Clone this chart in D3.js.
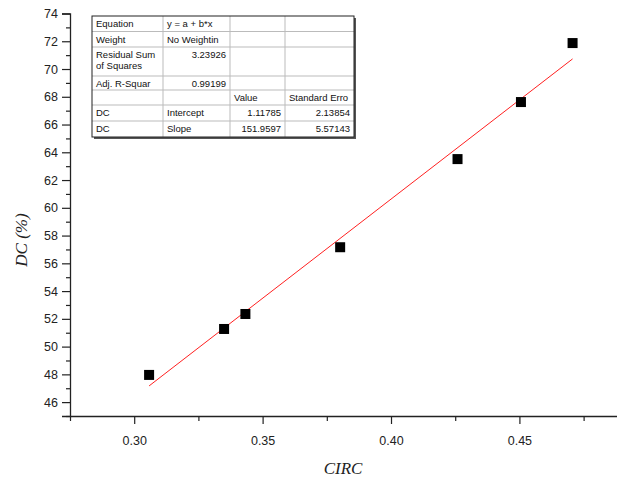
<!DOCTYPE html>
<html><head><meta charset="utf-8">
<script src="https://cdn.jsdelivr.net/npm/d3@7"></script>
<style>body{margin:0;background:#fff}svg{display:block}</style>
</head><body>
<svg id="c" width="617" height="479"></svg>
<script>
// Data
const circ = [0.3058, 0.3350, 0.3433, 0.3802, 0.4259, 0.4506, 0.4707];
const dc   = [47.96, 51.27, 52.35, 57.16, 63.51, 67.62, 71.87];
const xTicks = [0.30, 0.35, 0.40, 0.45];
const xMinor = [0.275, 0.325, 0.375, 0.425, 0.475];
const yTicks = [46, 48, 50, 52, 54, 56, 58, 60, 62, 64, 66, 68, 70, 72, 74];
const yMinor = [45, 47, 49, 51, 53, 55, 57, 59, 61, 63, 65, 67, 69, 71, 73];
const tableRows = [
  ["Equation", "y = a + b*x", "", ""],
  ["Weight", "No Weightin", "", ""],
  ["Residual Sum\nof Squares", "3.23926", "", ""],
  ["Adj. R-Squar", "0.99199", "", ""],
  ["", "", "Value", "Standard Erro"],
  ["DC", "Intercept", "1.11785", "2.13854"],
  ["DC", "Slope", "151.9597", "5.57143"]
];

const svg = d3.select("#c");
const x = d3.scaleLinear().domain([0.275, 0.488]).range([70, 617]);
const y = d3.scaleLinear().domain([45, 74]).range([416, 13.5]);

// least squares fit of the plotted points
const n = circ.length;
const mx = d3.mean(circ), my = d3.mean(dc);
let sxy = 0, sxx = 0;
for (let i = 0; i < n; i++) { sxy += (circ[i]-mx)*(dc[i]-my); sxx += (circ[i]-mx)**2; }
const b = sxy / sxx, a = my - b * mx;
const x0 = d3.min(circ), x1 = d3.max(circ);

// axes
const gx = svg.append("g").attr("transform", "translate(0,416)");
gx.call(d3.axisBottom(x).tickValues(xTicks).tickFormat(d3.format(".2f")).tickSize(8).tickPadding(12));
gx.append("g").call(d3.axisBottom(x).tickValues(xMinor).tickFormat("").tickSize(5)).select(".domain").remove();
const gy = svg.append("g").attr("transform", "translate(70,0)");
gy.call(d3.axisLeft(y).tickValues(yTicks).tickFormat(d3.format("d")).tickSize(8).tickPadding(4));
gy.append("g").call(d3.axisLeft(y).tickValues(yMinor).tickFormat("").tickSize(4)).select(".domain").remove();
svg.selectAll(".domain").attr("stroke", "#222").attr("stroke-width", 1.3);
svg.selectAll(".tick line").attr("stroke", "#222").attr("stroke-width", 1.2);
svg.selectAll(".tick text").attr("font-family", "Liberation Sans, Arial, sans-serif").attr("font-size", 12.5).attr("fill", "#222");
gx.select(".domain").attr("d", "M70,0.5H617");

// axis titles
svg.append("text").attr("x", 343).attr("y", 474).attr("text-anchor", "middle")
  .attr("font-family", "Liberation Serif, Times New Roman, serif").attr("font-style", "italic")
  .attr("font-size", 17).attr("fill", "#222").text("CIRC");
svg.append("text").attr("transform", "translate(27,240) rotate(-90)").attr("text-anchor", "middle")
  .attr("font-family", "Liberation Serif, Times New Roman, serif").attr("font-style", "italic")
  .attr("font-size", 17).attr("fill", "#222").text("DC (%)");

// fit line
svg.append("line").attr("x1", x(x0)).attr("y1", y(a + b*x0)).attr("x2", x(x1)).attr("y2", y(a + b*x1))
  .attr("stroke", "#ff2020").attr("stroke-width", 1);

// points
svg.append("g").selectAll("rect").data(circ).join("rect")
  .attr("x", (d) => x(d) - 5).attr("y", (d, i) => y(dc[i]) - 5)
  .attr("width", 10).attr("height", 10).attr("fill", "#000");

// table
const colX = [92, 163, 230, 285, 354];
const rowY = [16, 31.5, 47, 76, 90, 105, 121, 137];
const tb = svg.append("g");
tb.append("rect").attr("x", colX[0] + 2).attr("y", rowY[0] + 2).attr("width", colX[4] - colX[0])
  .attr("height", rowY[7] - rowY[0]).attr("fill", "#555");
tb.append("rect").attr("x", colX[0]).attr("y", rowY[0]).attr("width", colX[4] - colX[0])
  .attr("height", rowY[7] - rowY[0]).attr("fill", "#fff");
for (let i = 1; i < 7; i++) tb.append("line").attr("x1", colX[0]).attr("x2", colX[4])
  .attr("y1", rowY[i]).attr("y2", rowY[i]).attr("stroke", "#bbb").attr("stroke-width", 1);
for (let j = 1; j < 4; j++) tb.append("line").attr("x1", colX[j]).attr("x2", colX[j])
  .attr("y1", rowY[0]).attr("y2", rowY[7]).attr("stroke", "#bbb").attr("stroke-width", 1);
tb.append("rect").attr("x", colX[0]).attr("y", rowY[0]).attr("width", colX[4] - colX[0])
  .attr("height", rowY[7] - rowY[0]).attr("fill", "none").attr("stroke", "#222").attr("stroke-width", 1);
const isNum = (s) => /^[0-9.]+$/.test(s);
tableRows.forEach((row, i) => {
  row.forEach((cell, j) => {
    if (!cell) return;
    const lines = cell.split("\n");
    const right = isNum(cell);
    lines.forEach((ln, k) => {
      tb.append("text")
        .attr("x", right ? colX[j+1] - 4 : colX[j] + 4)
        .attr("y", rowY[i] + 11 + k * 11)
        .attr("text-anchor", right ? "end" : "start")
        .attr("font-family", "Liberation Sans, Arial, sans-serif").attr("font-size", 9.5)
        .attr("fill", "#111").text(ln);
    });
  });
});
</script>
</body></html>
